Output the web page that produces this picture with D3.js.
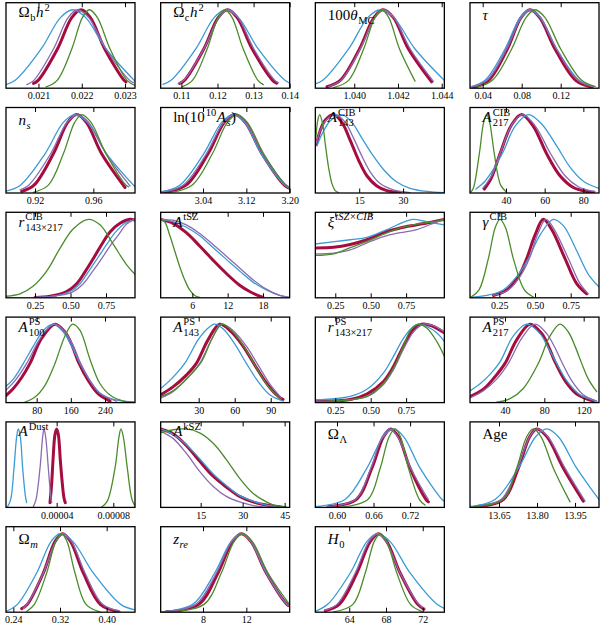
<!DOCTYPE html>
<html><head><meta charset="utf-8">
<script src="https://cdn.jsdelivr.net/npm/d3@7"></script>
<style>body{margin:0;background:#fff}svg{display:block}</style>
</head><body><svg id="c" width="600" height="626"></svg>
<script>
// ---------- data ----------
const paramLabels = [
 [['Ω','r'],['b','sb'],['h','i'],['2','sp']],
 [['Ω','r'],['c','sb'],['h','i'],['2','sp']],
 [['100','r'],['θ','i'],['MC','sb']],
 [['τ','i']],
 [['n','i'],['s','sbi']],
 [['ln(10','r'],['10','sp'],['A','i'],['s','sbi'],[')','r']],
 [['A','i'],['CIB','ss','143']],
 [['A','i'],['CIB','ss','217']],
 [['r','i'],['CIB','ss','143×217']],
 [['A','i'],['tSZ','sp']],
 [['ξ','i'],['tSZ×CIB','spi']],
 [['γ','i'],['CIB','sp']],
 [['A','i'],['PS','ss','100']],
 [['A','i'],['PS','ss','143']],
 [['r','i'],['PS','ss','143×217']],
 [['A','i'],['PS','ss','217']],
 [['A','i'],['Dust','sp']],
 [['A','i'],['kSZ','sp']],
 [['Ω','r'],['Λ','sb']],
 [['Age','r']],
 [['Ω','r'],['m','sbi']],
 [['z','i'],['re','sbi']],
 [['H','i'],['0','sb']]
];
const xDomains = [
 [0.02025,0.02323],[0.10426,0.14],[1.03822,1.04412],[0.027,0.1593],
 [0.9001,0.98857],[2.9618,3.2],[0,44.1],[21.4,88.1],
 [0.0458,0.9542],[0.623,22.53],[0.1092,1.02],[0.0444,0.9486],
 [8.2,310.2],[-1.67,105.8],[0.1092,1.02],[4.41,135.6],
 [4.24e-6,9.53e-5],[0.714,46.8],[0.5645,0.7762],[13.5355,14.0447],
 [0.2274,0.4486],[4.092,16.0],[60.31,74.35]
];
const tickValues = [
 [0.021,0.022,0.023],[0.11,0.12,0.13,0.14],[1.040,1.042,1.044],[0.04,0.08,0.12],
 [0.92,0.96],[3.04,3.12,3.20],[15,30],[40,60,80],
 [0.25,0.5,0.75],[6,12,18],[0.25,0.5,0.75],[0.25,0.5,0.75],
 [80,160,240],[30,60,90],[0.25,0.5,0.75],[40,80,120],
 [0.00004,0.00008],[15,30,45],[0.60,0.66,0.72],[13.65,13.80,13.95],
 [0.24,0.32,0.40],[8,12],[64,68,72]
];
const tickLabels = [
 ['0.021','0.022','0.023'],['0.11','0.12','0.13','0.14'],['1.040','1.042','1.044'],['0.04','0.08','0.12'],
 ['0.92','0.96'],['3.04','3.12','3.20'],['15','30'],['40','60','80'],
 ['0.25','0.50','0.75'],['6','12','18'],['0.25','0.50','0.75'],['0.25','0.50','0.75'],
 ['80','160','240'],['30','60','90'],['0.25','0.50','0.75'],['40','80','120'],
 ['0.00004','0.00008'],['15','30','45'],['0.60','0.66','0.72'],['13.65','13.80','13.95'],
 ['0.24','0.32','0.40'],['8','12'],['64','68','72']
];
const blueCurves = [
 [[0.020254,0.047],[0.020462,0.1],[0.021062,0.5],[0.021508,0.9],[0.021792,1],[0.022092,0.9],[0.022562,0.5],[0.02323,0.09]],
 [[0.10491,0.048],[0.10713,0.1],[0.11398,0.5],[0.11907,0.9],[0.12231,1],[0.12583,0.9],[0.1313,0.5],[0.1387,0.1],[0.14,0.066]],
 [[1.03822,0.055],[1.03856,0.1],[1.03974,0.5],[1.04062,0.9],[1.04119,1],[1.04181,0.9],[1.04278,0.5],[1.04412,0.1]],
 [[0.02769,0.018],[0.04239,0.1],[0.06291,0.5],[0.07829,0.9],[0.08786,1],[0.0988,0.9],[0.1159,0.5],[0.1388,0.1],[0.1535,0.022]],
 [[0.90011,0.025],[0.90994,0.1],[0.92686,0.5],[0.93943,0.9],[0.94743,1],[0.95589,0.9],[0.96914,0.5],[0.98857,0.08]],
 [[2.96185,0.015],[2.99692,0.1],[3.04123,0.5],[3.07446,0.9],[3.09538,1],[3.11692,0.9],[3.14769,0.5],[3.19077,0.1],[3.2,0.06]],
 [[0.57,0.6],[2.27,0.75],[5.11,0.92],[9.09,1],[12.5,0.9],[15.91,0.7],[19.32,0.5],[23.3,0.3],[27.84,0.14],[32.39,0.06],[38.07,0.02],[44.09,0.005]],
 [[24.48,0.05],[29.14,0.15],[33.45,0.3],[38.62,0.53],[44.66,0.85],[51.55,1],[58.45,0.88],[66.21,0.6],[73.1,0.33],[80,0.15],[88.1,0.06]],
 [[0.25,0.005],[0.3791,0.02],[0.4965,0.08],[0.5669,0.18],[0.6256,0.33],[0.696,0.52],[0.7547,0.68],[0.8134,0.83],[0.8838,0.95],[0.9542,1]],
 [[0.623,1],[2.717,0.97],[4.981,0.9],[7.245,0.79],[9.509,0.64],[11.774,0.49],[14.038,0.34],[16.302,0.2],[18.566,0.1],[20.83,0.03],[22.528,0.005]],
 [[0.1092,0.686],[0.3556,0.74],[0.473,0.77],[0.6138,0.87],[0.7547,0.98],[0.8016,1],[0.8955,0.97],[1.02,0.93]],
 [[0.0444,0.005],[0.1612,0.03],[0.278,0.1],[0.3715,0.27],[0.4533,0.5],[0.535,0.8],[0.6285,1],[0.6986,0.92],[0.792,0.6],[0.8738,0.3],[0.9486,0.14]],
 [[8.2,0.21],[25.4,0.3],[48.8,0.5],[72.2,0.72],[95.6,0.92],[119.0,1],[142.4,0.9],[162.0,0.72],[181.5,0.5],[204.9,0.28],[228.3,0.12],[259.5,0.04],[310.2,0.005]],
 [[-1.67,0.18],[5.83,0.28],[18.33,0.5],[29.44,0.8],[36.39,0.93],[43.33,1],[50.28,0.94],[60.0,0.75],[69.72,0.5],[79.44,0.27],[89.17,0.1],[100.28,0.02]],
 [[0.1092,0.035],[0.3556,0.08],[0.473,0.17],[0.5904,0.38],[0.6608,0.59],[0.7312,0.82],[0.8016,0.97],[0.8369,1],[0.8955,0.97],[0.966,0.89],[1.02,0.78]],
 [[4.41,0.15],[14.58,0.24],[24.75,0.36],[34.92,0.52],[48.47,0.85],[62.03,1],[75.59,0.88],[84.07,0.7],[92.54,0.5],[102.71,0.28],[116.27,0.1],[133.22,0.02]],
 [[5.18e-6,0.005],[7.53e-6,0.1],[9.88e-6,0.5],[1.176e-5,0.9],[1.294e-5,1],[1.435e-5,0.9],[1.6e-5,0.5],[1.788e-5,0.15],[1.882e-5,0.06]],
 [[0.714,1],[5.12,0.93],[9.88,0.8],[14.64,0.62],[19.4,0.43],[24.17,0.28],[28.93,0.15],[33.69,0.08],[38.45,0.03],[45.6,0.002]],
 [[0.5645,0.01],[0.6131,0.1],[0.6491,0.5],[0.6758,0.9],[0.6927,1],[0.7096,0.9],[0.7364,0.5],[0.7724,0.1],[0.7762,0.08]],
 [[13.5355,0.01],[13.6342,0.1],[13.7263,0.5],[13.7947,0.9],[13.8382,1],[13.8842,0.9],[13.9566,0.5],[14.0447,0.1]],
 [[0.2274,0.01],[0.2469,0.1],[0.28,0.5],[0.3046,0.9],[0.32,1],[0.3423,0.9],[0.3771,0.5],[0.424,0.1],[0.4486,0.03]],
 [[4.092,0.005],[7.046,0.1],[9.077,0.5],[10.585,0.9],[11.538,1],[12.431,0.9],[13.846,0.5],[15.754,0.1],[16.0,0.08]],
 [[60.31,0.01],[61.65,0.1],[64.11,0.5],[65.92,0.9],[67.08,1],[68.45,0.9],[70.62,0.5],[73.56,0.1],[74.35,0.05]]
];
const purpleCurves = [
 [[0.020731,0.045],[0.020892,0.1],[0.021346,0.5],[0.021685,0.9],[0.0219,1],[0.022162,0.9],[0.022562,0.5],[0.023108,0.1],[0.023192,0.07]],
 [[0.10907,0.055],[0.11065,0.1],[0.1162,0.5],[0.12037,0.9],[0.12296,1],[0.12574,0.9],[0.13009,0.5],[0.13593,0.1],[0.13685,0.07]],
 [[1.03883,0.021],[1.03939,0.1],[1.04027,0.5],[1.04093,0.9],[1.04134,1],[1.04181,0.9],[1.04256,0.5],[1.04362,0.087]],
 [[0.02872,0.015],[0.04444,0.1],[0.06462,0.5],[0.07966,0.9],[0.08923,1],[0.09949,0.9],[0.1159,0.5],[0.13778,0.1],[0.1535,0.018]],
 [[0.90971,0.04],[0.91566,0.1],[0.93074,0.5],[0.94194,0.9],[0.94903,1],[0.9568,0.9],[0.96869,0.5],[0.98514,0.09]],
 [[2.96431,0.01],[3.00308,0.1],[3.04615,0.5],[3.07815,0.9],[3.09846,1],[3.11877,0.9],[3.15077,0.5],[3.19385,0.1],[3.2,0.074]],
 [[0.34,0.64],[1.7,0.8],[3.98,0.94],[7.16,1],[10.23,0.9],[13.07,0.7],[15.91,0.47],[18.75,0.27],[22.16,0.12],[26.7,0.04],[32.39,0.005]],
 [[27.93,0.06],[32.59,0.22],[36.9,0.5],[43.28,0.88],[48.62,1],[54.99,0.86],[63.1,0.5],[70.52,0.22],[77.41,0.08],[83.45,0.03],[86.03,0.02]],
 [[0.25,0.005],[0.3791,0.02],[0.5082,0.07],[0.5904,0.18],[0.6491,0.32],[0.7195,0.5],[0.7782,0.66],[0.8369,0.8],[0.8955,0.94],[0.9542,1]],
 [[0.623,0.99],[2.717,0.99],[4.981,0.93],[7.245,0.82],[9.509,0.68],[11.774,0.53],[14.038,0.38],[16.302,0.23],[18.566,0.11],[20.83,0.03],[22.528,0.005]],
 [[0.1092,0.56],[0.2383,0.57],[0.3556,0.61],[0.473,0.7],[0.5904,0.78],[0.7077,0.83],[0.8251,0.87],[0.9425,0.95],[1.02,1]],
 [[0.2079,0.03],[0.3131,0.1],[0.3949,0.27],[0.4603,0.5],[0.5164,0.8],[0.5771,1],[0.6355,0.87],[0.7336,0.5],[0.8154,0.18],[0.8738,0.05]],
 [[8.2,0.16],[29.3,0.28],[56.6,0.5],[83.9,0.78],[103.4,0.93],[122.9,1],[146.3,0.9],[165.9,0.72],[183.0,0.5],[204.9,0.28],[228.3,0.12],[267.3,0.02]],
 [[-1.67,0.06],[8.61,0.14],[19.72,0.3],[30.83,0.5],[40.56,0.8],[48.89,1],[58.61,0.92],[69.72,0.72],[79.44,0.48],[89.17,0.24],[98.89,0.06]],
 [[0.1092,0.015],[0.473,0.075],[0.5904,0.23],[0.6608,0.42],[0.7312,0.68],[0.8016,0.9],[0.8721,1],[0.9425,0.98],[1.02,0.9]],
 [[4.41,0.06],[17.97,0.15],[31.53,0.3],[43.39,0.5],[56.95,0.82],[70.51,1],[82.37,0.88],[90.85,0.7],[97.63,0.52],[107.8,0.28],[119.66,0.1],[133.22,0.02]],
 [[2.353e-5,0.01],[2.541e-5,0.1],[2.824e-5,0.5],[3.012e-5,0.9],[3.106e-5,1],[3.224e-5,0.9],[3.412e-5,0.5],[3.576e-5,0.15],[3.647e-5,0.06]],
 [[0.714,0.97],[5.12,0.88],[9.88,0.69],[14.64,0.46],[19.4,0.27],[24.17,0.14],[28.93,0.07],[36.07,0.01],[42.02,0.002]],
 [[0.5836,0.01],[0.6305,0.1],[0.6556,0.5],[0.6742,0.9],[0.6862,1],[0.6998,0.9],[0.7211,0.5],[0.75,0.1]],
 [[13.5553,0.01],[13.6579,0.1],[13.7224,0.5],[13.7711,0.9],[13.8013,1],[13.8434,0.9],[13.9105,0.5],[13.9895,0.08]],
 [[0.2571,0.05],[0.2634,0.1],[0.2914,0.5],[0.3126,0.9],[0.3257,1],[0.34,0.9],[0.3629,0.5],[0.3931,0.1],[0.4229,0.01]],
 [[4.308,0.005],[7.323,0.1],[9.231,0.5],[10.646,0.9],[11.538,1],[12.431,0.9],[13.846,0.5],[15.754,0.1],[16.0,0.08]],
 [[61.39,0.025],[62.66,0.1],[64.65,0.5],[66.14,0.9],[67.08,1],[68.02,0.9],[69.54,0.5],[71.57,0.1],[72.14,0.05]]
];
const redCurves = [
 [[0.020885,0.06],[0.020992,0.1],[0.021438,0.5],[0.021769,0.9],[0.021985,1],[0.0222,0.9],[0.022531,0.5],[0.022977,0.1],[0.023023,0.08]],
 [[0.10954,0.06],[0.11083,0.1],[0.1162,0.5],[0.12019,0.9],[0.12278,1],[0.12546,0.9],[0.12963,0.5],[0.13528,0.1],[0.13639,0.064]],
 [[1.03875,0.018],[1.03936,0.1],[1.04024,0.5],[1.0409,0.9],[1.04131,1],[1.04179,0.9],[1.04248,0.5],[1.04354,0.08]],
 [[0.03043,0.013],[0.04615,0.1],[0.0653,0.5],[0.07932,0.9],[0.08855,1],[0.09846,0.9],[0.11419,0.5],[0.13538,0.1],[0.15179,0.015]],
 [[0.91086,0.021],[0.91931,0.1],[0.93257,0.5],[0.9424,0.9],[0.94857,1],[0.9552,0.9],[0.96571,0.5],[0.98171,0.07]],
 [[2.96615,0.007],[3.00862,0.1],[3.04923,0.5],[3.07938,0.9],[3.09846,1],[3.11815,0.9],[3.14892,0.5],[3.19015,0.1],[3.2,0.06]],
 [[0.34,0.62],[1.7,0.8],[3.41,0.93],[6.25,1],[9.09,0.9],[11.93,0.67],[14.77,0.42],[17.61,0.22],[21.02,0.09],[24.43,0.03],[28.98,0.005]],
 [[28.79,0.05],[32.59,0.2],[36.9,0.5],[42.93,0.87],[48.1,1],[54.14,0.85],[61.03,0.5],[67.93,0.22],[74.83,0.07],[81.72,0.02],[85.17,0.01]],
 [[0.25,0.005],[0.3556,0.02],[0.473,0.08],[0.5434,0.18],[0.6021,0.33],[0.6608,0.5],[0.7195,0.68],[0.7782,0.84],[0.8486,0.95],[0.919,1],[0.9542,0.99]],
 [[0.623,1],[2.717,0.95],[4.981,0.83],[7.245,0.66],[9.509,0.48],[11.774,0.31],[14.038,0.16],[15.736,0.08],[17.434,0.02],[18.0,0.005]],
 [[0.1092,0.636],[0.2383,0.644],[0.3556,0.68],[0.473,0.74],[0.5904,0.83],[0.7077,0.89],[0.8251,0.93],[0.9425,0.97],[1.02,1]],
 [[0.2079,0.03],[0.3014,0.1],[0.3832,0.27],[0.4416,0.5],[0.5,0.8],[0.5584,1],[0.6168,0.87],[0.7103,0.5],[0.7921,0.18],[0.8621,0.05]],
 [[8.2,0.09],[25.4,0.18],[44.9,0.32],[64.4,0.5],[91.7,0.82],[122.9,1],[146.3,0.9],[162.0,0.74],[177.6,0.52],[201.0,0.28],[224.4,0.11],[251.7,0.02]],
 [[-1.67,0.1],[8.61,0.2],[19.72,0.35],[28.06,0.5],[37.78,0.8],[47.5,1],[57.22,0.9],[66.94,0.72],[76.67,0.48],[86.39,0.25],[94.72,0.1],[100.28,0.04]],
 [[0.1092,0.02],[0.3556,0.04],[0.473,0.11],[0.5904,0.27],[0.6608,0.46],[0.7312,0.72],[0.8016,0.93],[0.8603,1],[0.9308,0.98],[1.02,0.89]],
 [[4.41,0.075],[17.97,0.17],[29.83,0.33],[40.0,0.5],[51.86,0.8],[65.42,1],[77.29,0.88],[84.07,0.72],[90.85,0.52],[101.02,0.28],[112.88,0.11],[129.83,0.02]],
 [[3.529e-5,0.06],[3.647e-5,0.3],[3.741e-5,0.6],[3.882e-5,0.93],[4.0e-5,1],[4.118e-5,0.93],[4.259e-5,0.6],[4.376e-5,0.35],[4.518e-5,0.12],[4.612e-5,0.06]],
 [[0.714,1],[5.12,0.94],[9.88,0.79],[14.64,0.59],[19.4,0.4],[24.17,0.26],[28.93,0.14],[33.69,0.07],[38.45,0.03],[44.4,0.002]],
 [[0.5864,0.01],[0.6316,0.1],[0.6573,0.5],[0.6764,0.9],[0.6884,1],[0.7009,0.9],[0.72,0.5],[0.7462,0.1],[0.75,0.07]],
 [[13.5618,0.01],[13.6671,0.1],[13.7263,0.5],[13.7711,0.9],[13.7987,1],[13.8395,0.9],[13.9039,0.5],[13.9829,0.08]],
 [[0.2543,0.045],[0.264,0.1],[0.2914,0.5],[0.3114,0.9],[0.3246,1],[0.3383,0.9],[0.36,0.5],[0.3891,0.1],[0.42,0.01]],
 [[4.615,0.005],[7.6,0.1],[9.385,0.5],[10.708,0.9],[11.538,1],[12.431,0.9],[13.846,0.5],[15.754,0.1],[16.0,0.08]],
 [[61.39,0.02],[62.91,0.1],[64.83,0.5],[66.28,0.9],[67.19,1],[68.09,0.9],[69.54,0.5],[71.46,0.1],[72.14,0.04]]
];
const greenCurves = [
 [[0.021177,0.016],[0.021431,0.1],[0.021769,0.5],[0.022015,0.9],[0.022177,1],[0.022362,0.9],[0.022654,0.5],[0.023046,0.1],[0.02323,0.035]],
 [[0.11028,0.02],[0.11306,0.1],[0.11713,0.5],[0.12019,0.9],[0.12213,1],[0.12407,0.9],[0.12713,0.5],[0.1312,0.1],[0.13269,0.045]],
 [[1.03906,0.008],[1.03974,0.1],[1.04043,0.5],[1.04094,0.9],[1.04126,1],[1.04158,0.9],[1.04207,0.5],[1.04278,0.09]],
 [[0.03385,0.013],[0.04991,0.1],[0.06974,0.5],[0.08444,0.9],[0.09368,1],[0.10393,0.9],[0.12,0.5],[0.14154,0.1],[0.15521,0.022]],
 [[0.91886,0.008],[0.92914,0.1],[0.93943,0.5],[0.9472,0.9],[0.952,1],[0.9584,0.9],[0.96869,0.5],[0.9824,0.1],[0.984,0.08]],
 [[2.97846,0.006],[3.01969,0.1],[3.05723,0.5],[3.08492,0.9],[3.10277,1],[3.12185,0.9],[3.152,0.5],[3.19262,0.1],[3.2,0.066]],
 [[0.23,0.72],[0.8,0.92],[1.48,1],[2.39,0.9],[3.41,0.62],[4.55,0.32],[5.68,0.12],[6.82,0.03],[7.95,0.005]],
 [[21.72,0.01],[23.1,0.06],[26.21,0.5],[28.45,0.9],[30,1],[31.55,0.9],[33.97,0.5],[37.24,0.1],[40.34,0.01]],
 [[0.0458,0.02],[0.1444,0.05],[0.2383,0.15],[0.3322,0.34],[0.426,0.63],[0.5199,0.88],[0.6256,1],[0.7077,0.93],[0.8016,0.68],[0.8955,0.42],[0.9542,0.3]],
 [[0.623,1],[1.302,0.97],[2.151,0.8],[3.0,0.6],[3.849,0.4],[4.698,0.23],[5.547,0.1],[6.396,0.03],[7.245,0.005]],
 [[0.1092,0.54],[0.2383,0.56],[0.3556,0.64],[0.473,0.72],[0.5904,0.81],[0.7077,0.89],[0.8251,0.94],[0.9425,0.97],[1.02,1]],
 [[0.0491,0.005],[0.1075,0.1],[0.1729,0.5],[0.222,0.9],[0.2547,1],[0.2921,0.9],[0.3481,0.5],[0.4252,0.1],[0.4883,0.01]],
 [[52.7,0.005],[76.1,0.07],[99.5,0.22],[122.9,0.5],[146.3,0.85],[164.3,1],[181.5,0.92],[204.9,0.55],[228.3,0.24],[255.6,0.08],[282.9,0.02],[306.3,0.005]],
 [[-1.67,0.08],[8.61,0.15],[21.11,0.32],[32.22,0.52],[41.94,0.84],[49.72,1],[58.61,0.9],[68.33,0.7],[76.67,0.48],[86.39,0.24],[97.5,0.05]],
 [[0.1092,0.01],[0.473,0.08],[0.5904,0.25],[0.6608,0.44],[0.7312,0.72],[0.784,0.93],[0.8369,1],[0.8955,0.95],[0.966,0.78],[1.02,0.59]],
 [[31.53,0.005],[45.08,0.05],[58.64,0.18],[73.9,0.5],[85.76,0.85],[95.93,1],[104.41,0.9],[111.19,0.72],[117.97,0.5],[124.75,0.3],[133.22,0.14]],
 [[7.176e-5,0.005],[7.576e-5,0.08],[8.118e-5,0.5],[8.4e-5,0.9],[8.541e-5,1],[8.706e-5,0.9],[8.988e-5,0.5],[9.318e-5,0.1],[9.529e-5,0.02]],
 [[0.714,0.95],[5.12,0.99],[9.88,1],[14.64,0.95],[19.4,0.82],[24.17,0.61],[28.93,0.37],[33.69,0.18],[38.45,0.07],[42.0,0.02],[45.6,0.002]],
 [[0.6055,0.003],[0.6507,0.1],[0.6709,0.5],[0.6856,0.9],[0.6955,1],[0.7042,0.9],[0.7173,0.5],[0.7353,0.1],[0.7445,0.03]],
 [[13.5487,0.01],[13.6658,0.1],[13.7197,0.5],[13.7592,0.9],[13.7855,1],[13.8158,0.9],[13.8645,0.5],[13.9303,0.07]],
 [[0.2629,0.01],[0.276,0.1],[0.2971,0.5],[0.3126,0.9],[0.3229,1],[0.332,0.9],[0.3457,0.5],[0.3646,0.1],[0.3886,0.005]],
 [[4.923,0.003],[8.092,0.1],[9.692,0.5],[10.862,0.9],[11.631,1],[12.554,0.9],[14.0,0.5],[16.0,0.095]],
 [[62.3,0.003],[64.4,0.1],[65.74,0.5],[66.71,0.9],[67.37,1],[68.09,0.9],[69.18,0.5],[70.66,0.1],[71.89,0.01]]
];

// ---------- drawing ----------
const svg = d3.select('#c');
svg.append('rect').attr('width',600).attr('height',626).attr('fill','#fff');
const W = 129, H = 85.5;
const colX = c => 6 + c * 154.67;
const rowY = r => 2.7 + r * 104.8;
const series = [
  {data: redCurves,    color: '#a50d3e', width: 3.0},
  {data: blueCurves,   color: '#3a9bd5', width: 1.3},
  {data: purpleCurves, color: '#8c6bb1', width: 1.3},
  {data: greenCurves,  color: '#4a8c2a', width: 1.3}
];
const serif = "'Liberation Serif','DejaVu Serif',serif";

xDomains.forEach((dom, i) => {
  const c = i % 4, r = Math.floor(i / 4);
  const L = colX(c), T = rowY(r);
  const g = svg.append('g').attr('transform', `translate(${L},${T})`);
  const x = d3.scaleLinear().domain(dom).range([0, W]);
  const y = d3.scaleLinear().domain([0, 1.09]).range([H, 0]);
  const cid = 'clip' + i;
  g.append('clipPath').attr('id', cid).append('rect').attr('width', W).attr('height', H);
  const line = d3.line().x(d => x(d[0])).y(d => y(d[1])).curve(d3.curveCatmullRom.alpha(0.5));
  const cg = g.append('g').attr('clip-path', `url(#${cid})`);
  series.forEach(s => {
    cg.append('path').attr('d', line(s.data[i])).attr('fill', 'none')
      .attr('stroke', s.color).attr('stroke-width', s.width)
      .attr('stroke-linejoin', 'round').attr('stroke-linecap', 'round');
  });
  // axes
  const bot = g.append('g').attr('transform', `translate(0,${H})`)
    .call(d3.axisBottom(x).tickValues(tickValues[i]).tickFormat((d, j) => tickLabels[i][j])
      .tickSizeInner(-4.5).tickSizeOuter(0).tickPadding(4.2));
  bot.attr('font-family', null).attr('font-size', null);
  bot.select('.domain').remove();
  bot.selectAll('text').style('font-family', serif).style('font-size', '10px').attr('fill', '#000');
  bot.selectAll('line').attr('stroke', '#000').attr('stroke-width', 1);
  const top = g.append('g')
    .call(d3.axisTop(x).tickValues(tickValues[i]).tickFormat('').tickSizeInner(-4.5).tickSizeOuter(0));
  top.select('.domain').remove();
  top.selectAll('line').attr('stroke', '#000').attr('stroke-width', 1);
  g.append('rect').attr('width', W).attr('height', H).attr('fill', 'none')
    .attr('stroke', '#000').attr('stroke-width', 1.3);
  // parameter label
  const segs = paramLabels[i];
  const hasSup = segs.some(s => s[1] === 'sp' || s[1] === 'spi' || s[1] === 'ss');
  const by = hasSup ? 14.5 : 17.5;
  let cx = 12.5;
  const lg = g.append('g');
  const mk = (t, xx, yy, size, ital) => lg.append('text').attr('x', xx).attr('y', yy)
      .style('font-family', serif).style('font-size', size + 'px')
      .style('font-style', ital ? 'italic' : 'normal').attr('fill', '#000').text(t);
  segs.forEach(s => {
    const [t, k, t2] = s;
    if (k === 'r' || k === 'i') {
      const n = mk(t, cx, by, 15, k === 'i'); cx += n.node().getComputedTextLength();
    } else if (k === 'sb' || k === 'sbi') {
      const n = mk(t, cx + 0.5, by + 4, 10.5, k === 'sbi'); cx += n.node().getComputedTextLength() + 1;
    } else if (k === 'sp' || k === 'spi') {
      const n = mk(t, cx + 1, by - 6.5, 10.5, k === 'spi'); cx += n.node().getComputedTextLength() + 1.5;
    } else if (k === 'ss') {
      const a = mk(t, cx + 1, by - 6.5, 10.5, false);
      const b = mk(t2, cx + 1, by + 4, 10.5, false);
      cx += Math.max(a.node().getComputedTextLength(), b.node().getComputedTextLength()) + 1.5;
    }
  });
});
</script>
</body></html>
